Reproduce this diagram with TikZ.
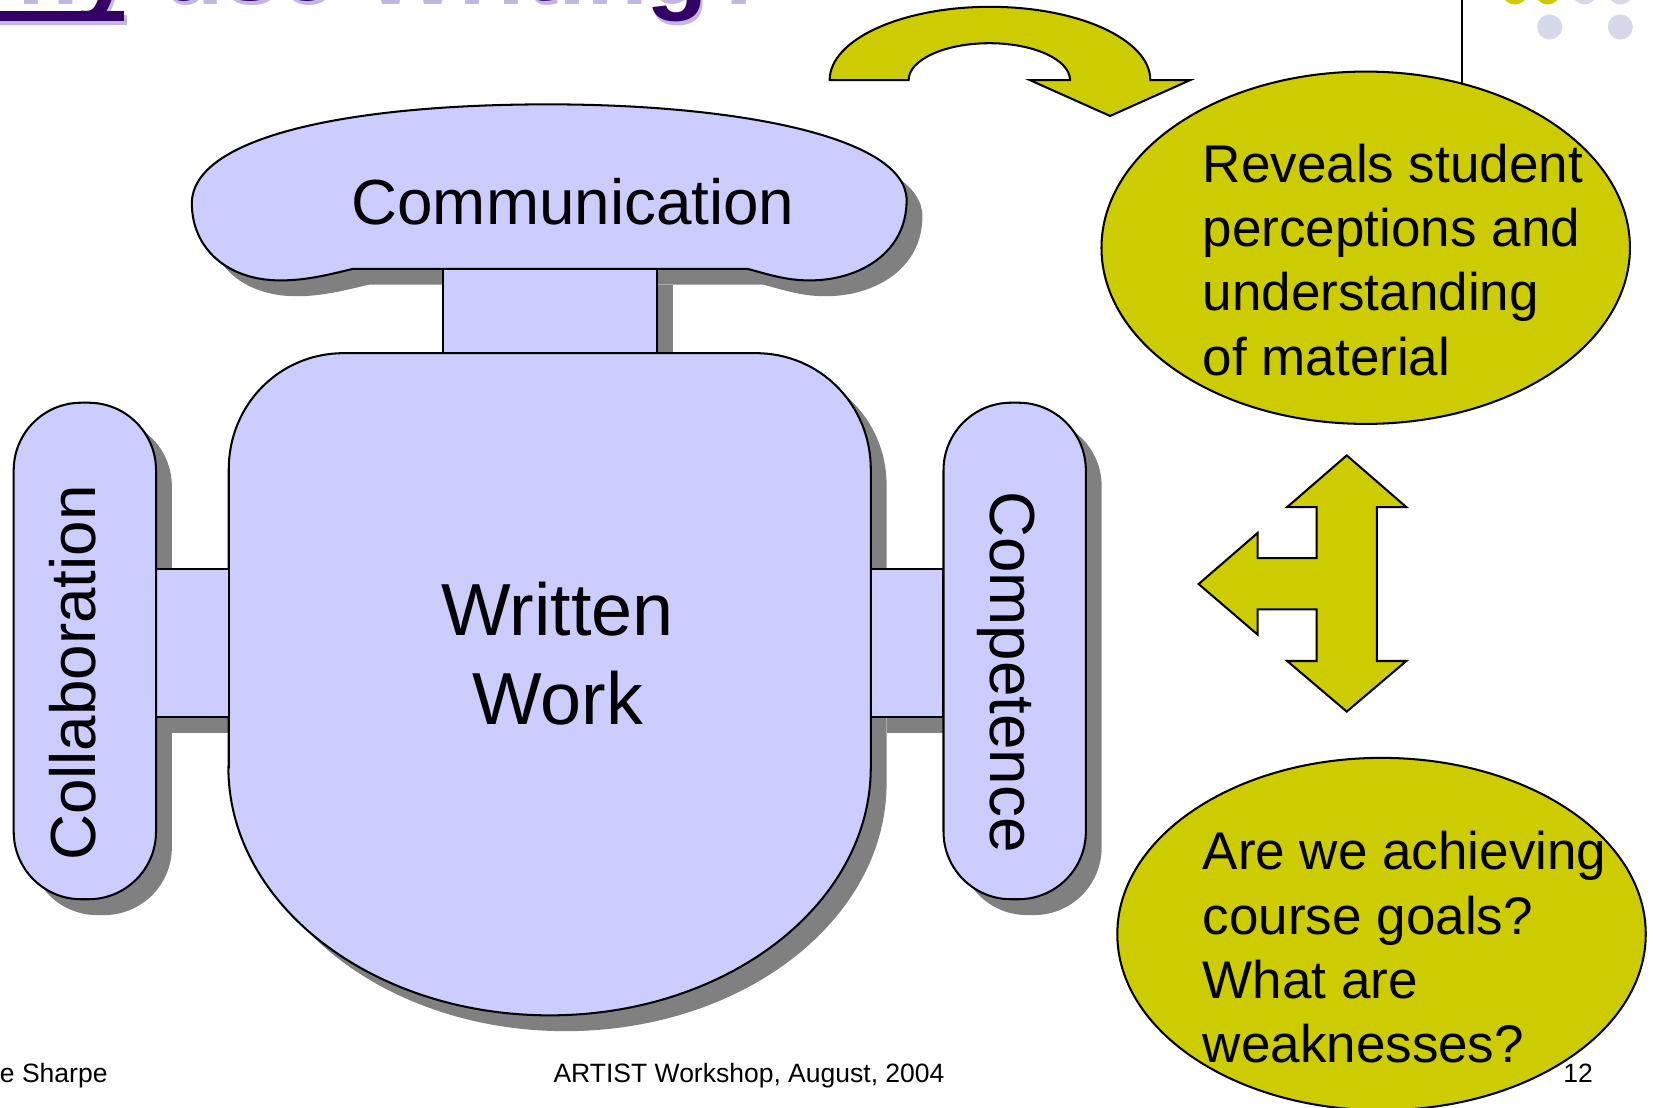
\documentclass[tikz,border=0pt]{standalone}
\usepackage{fontspec}
\setmainfont{Liberation Sans}
\usetikzlibrary{shapes.geometric}

\definecolor{chairblue}{HTML}{CCCCFF}
\definecolor{bulbyellow}{HTML}{CCCC00}
\definecolor{castgrey}{HTML}{808080}
\definecolor{dotlilac}{HTML}{D8D8EB}
\definecolor{titlepurple}{HTML}{330066}
\definecolor{titlelilac}{HTML}{C3B6E0}

% outlines of the chair parts (units: 1 = 0.01cm, y grows downward)
\newcommand\BackrestOutline{(335,255) .. controls (310,261) and (290,266) .. (266,266)
  .. controls (215,266) and (182,235) .. (182,193)
  .. controls (182,130) and (330,99) .. (520,99)
  .. controls (700,99) and (860,130) .. (860,190)
  .. controls (860,240) and (815,266) .. (768,266)
  .. controls (745,266) and (728,260) .. (709,255) -- cycle}
\newcommand\NeckOutline{(420,255) rectangle (623,335)}
\newcommand\SeatOutline{(217,728) -- (217,445) .. controls (217,384) and (265,335) .. (326,335)
  -- (717,335) .. controls (778,335) and (826,384) .. (826,445) -- (826,728)
  arc[start angle=0, end angle=-180, x radius=3.045cm, y radius=2.35cm] -- cycle}
\newcommand\LeftLinkOutline{(148,540) rectangle (217,680)}
\newcommand\RightLinkOutline{(826,540) rectangle (895,680)}
\newcommand\LeftArmOutline{(13,382) rectangle (148,853)}
\newcommand\RightArmOutline{(895,382) rectangle (1030,853)}

\begin{document}
\begin{tikzpicture}[x=0.01cm, y=-0.01cm, line width=0.55pt,
  part/.style={draw=black, fill=chairblue},
  cast/.style={fill=castgrey, draw=none, shift={(15,15)}},
  armround/.style={rounded corners=0.64cm},
  bulb/.style={draw=black, fill=bulbyellow},
  oval/.style={ellipse, draw=black, fill=bulbyellow, inner sep=0pt,
    minimum width=5.01cm, minimum height=3.34cm},
  labelbig/.style={font=\fontsize{17.2}{20}\selectfont, inner sep=0pt},
  labelseat/.style={font=\fontsize{19.9}{24}\selectfont, inner sep=0pt, anchor=base},
  ovaltext/.style={font=\fontsize{14.3}{17.3}\selectfont, inner sep=0pt, anchor=base west},
  foot/.style={font=\fontsize{7.15}{9}\selectfont, inner sep=0pt},
  heading/.style={font=\fontsize{27.2}{32}\selectfont\bfseries, inner sep=0pt, anchor=base west}]

\useasboundingbox (0,0) rectangle (1568,1051);

% heading along the top edge, with its light drop shadow
\fill[titlelilac] (-77,14) rectangle (120,23.5);
\node[heading, text=titlelilac] (headshade) at (-75,4) {Why use Writing?};
\node[heading, text=titlepurple] (head) at (-77,0.5) {Why use Writing?};
\fill[titlepurple] (-79,10.5) rectangle (118,20);

% corner dots
\fill[bulbyellow] (1437,-7.6) circle[radius=0.119cm];
\fill[bulbyellow] (1468,-7.6) circle[radius=0.119cm];
\fill[dotlilac] (1503,-7.6) circle[radius=0.119cm];
\fill[dotlilac] (1537,-7.6) circle[radius=0.119cm];
\fill[dotlilac] (1470,25.6) circle[radius=0.119cm];
\fill[dotlilac] (1537,25.6) circle[radius=0.119cm];

% header rule
\draw[line width=0.55pt] (1387,0) -- (1387,95);

% chair: shadows first
\path[cast] \BackrestOutline;
\path[cast] \NeckOutline;
\path[cast] \SeatOutline;
\path[cast] \LeftLinkOutline;
\path[cast, armround] \LeftArmOutline;
\path[cast] \RightLinkOutline;
\path[cast, armround] \RightArmOutline;

% chair parts
\path[part] \BackrestOutline;
\path[part] \NeckOutline;
\path[part] \SeatOutline;
\path[part] \LeftLinkOutline;
\path[part, armround] \LeftArmOutline;
\path[part] \RightLinkOutline;
\path[part, armround] \RightArmOutline;

\node[labelbig, anchor=base] (comm) at (543.5,212.5) {Communication};
\node[labelseat] (written) at (529,603) {Written};
\node[labelseat] (work) at (529,687) {Work};
\node[labelbig, rotate=90, anchor=base] (collab) at (91,638.5) {Collaboration};
\node[labelbig, rotate=-90, anchor=base] (compet) at (940,637.5) {Competence};

% curved arrow
\path[bulb] (787,76) arc[start angle=180, end angle=0, x radius=1.52cm, y radius=0.695cm]
  -- (1129,76) -- (1053,110) -- (977,76) -- (1015,76)
  arc[start angle=0, end angle=180, x radius=0.765cm, y radius=0.35cm] -- cycle;

% ovals
\node[oval] (reveal) at (1295.5,235) {};
\node[ovaltext] (r1) at (1140,173) {Reveals student};
\node[ovaltext] (r2) at (1140,234) {perceptions and};
\node[ovaltext] (r3) at (1140,295) {understanding};
\node[ovaltext] (r4) at (1140,356) {of material};

\node[oval] (goals) at (1310.5,886) {};
\node[ovaltext] (g1) at (1140,825) {Are we achieving};
\node[ovaltext] (g2) at (1140,886) {course goals?};
\node[ovaltext] (g3) at (1140,947) {What are};
\node[ovaltext] (g4) at (1140,1008) {weaknesses?};

% three-way arrow
\path[bulb] (1277.5,432) -- (1334,481) -- (1306,481) -- (1306,627) -- (1334,627)
  -- (1277.5,675) -- (1221,627) -- (1249,627) -- (1249,578) -- (1193,578)
  -- (1193,602) -- (1137,554) -- (1193,505.5) -- (1193,529.5) -- (1249,529.5)
  -- (1249,481) -- (1221,481) -- cycle;

% footer
\node[foot, anchor=base west] (author) at (-1,1027) {e Sharpe};
\node[foot, anchor=base] (event) at (710.5,1027) {ARTIST Workshop, August, 2004};
\node[foot, anchor=base east] (page) at (1512,1027) {12};
\end{tikzpicture}
\end{document}
